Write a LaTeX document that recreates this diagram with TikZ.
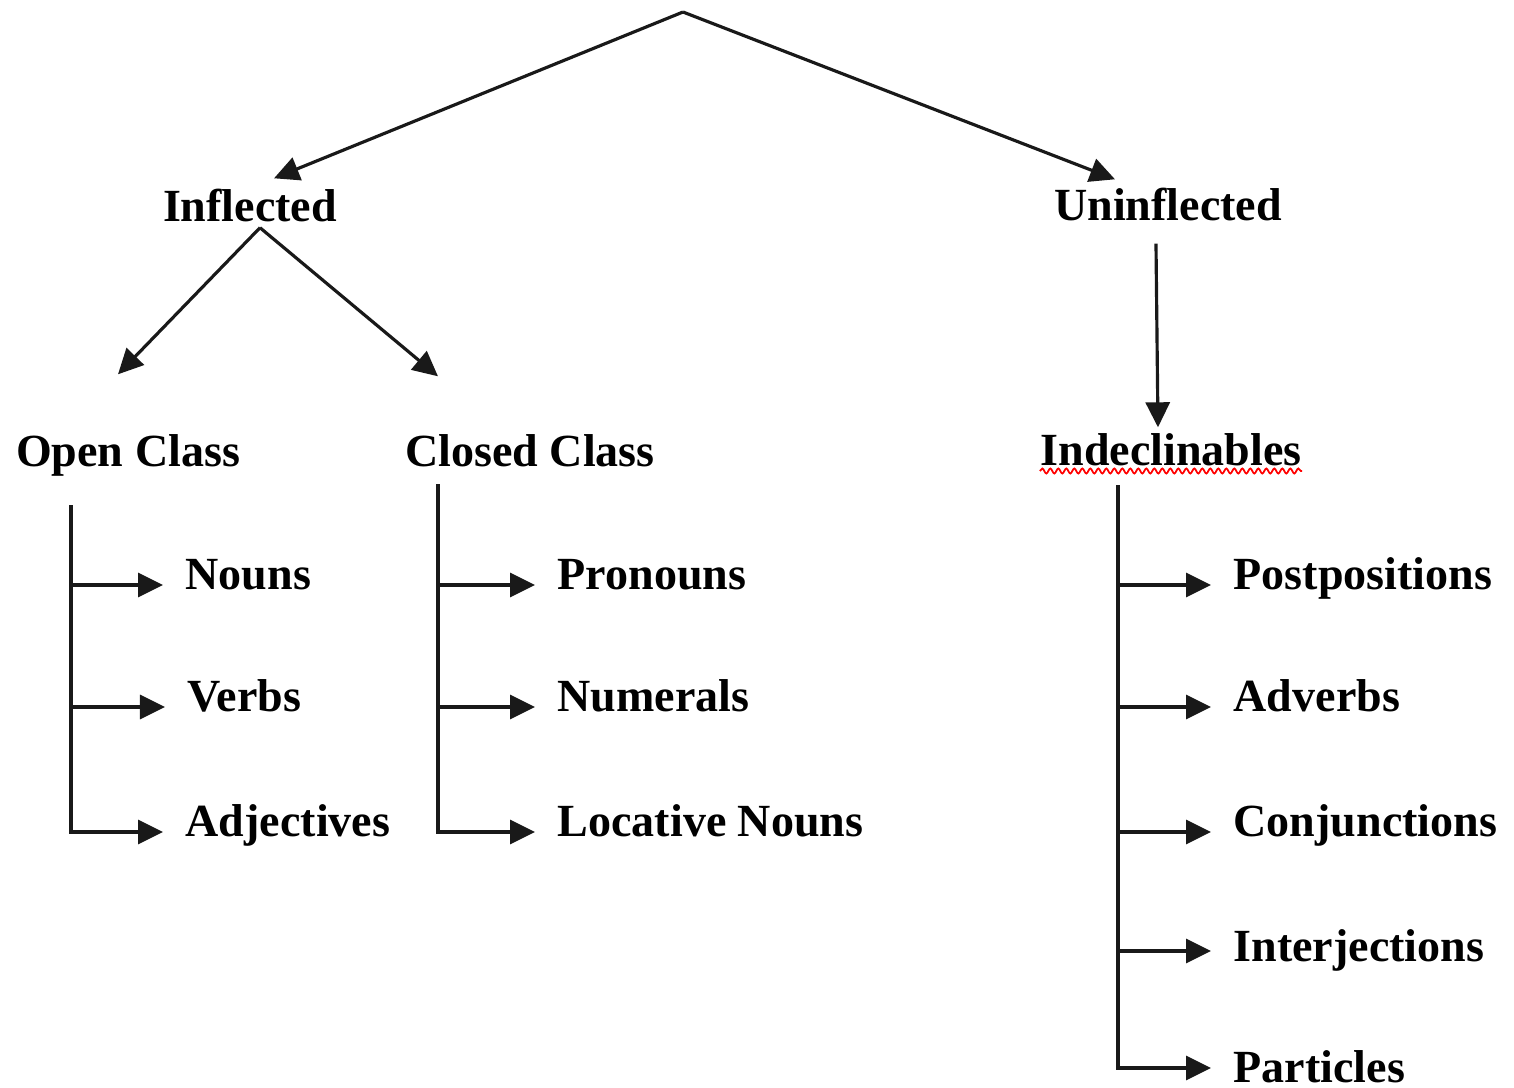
\documentclass[tikz,border=0pt]{standalone}
\usepackage{fontspec}
\setmainfont{Liberation Serif}
\usetikzlibrary{arrows.meta, positioning, decorations.pathmorphing}

\begin{document}
\begin{tikzpicture}[
  conn/.style={-{Triangle[length=0.25cm, width=0.24cm]}, line width=0.9pt, black!90},
  cat/.style={anchor=base, inner sep=0pt, text height=0.33cm, text depth=0.1cm, font=\fontsize{13.1}{15}\selectfont\bfseries},
  leaf/.style={anchor=base west, inner xsep=0.22cm, inner ysep=0pt, text height=0.33cm, text depth=0.25cm, font=\fontsize{13.1}{15}\selectfont\bfseries}
]
  \useasboundingbox (0,0) rectangle (15.14,-10.87);

  % Root point
  \coordinate (root) at (6.83,-0.12);

  % Categories
  \node[cat] (inflected) at (2.50,-2.21) {Inflected};
  \node[cat] (uninflected) at (11.68,-2.20) {Uninflected};
  \node[cat] (open) at (1.28,-4.66) {Open Class};
  \node[cat] (closed) at (5.30,-4.66) {Closed Class};
  \node[cat] (indecl) at (11.71,-4.65) {Indeclinables};
  \draw[red, line width=0.5pt, decorate, decoration={snake, amplitude=0.25mm, segment length=0.8mm}]
    ([yshift=-0.06cm]indecl.base west) -- ([yshift=-0.06cm]indecl.base east);

  % Open class
  \node[leaf] (nouns) at (1.63,-5.89) {Nouns};
  \node[leaf] (verbs) at (1.65,-7.11) {Verbs};
  \node[leaf] (adj) at (1.63,-8.36) {Adjectives};
  % Closed class
  \node[leaf] (pron) at (5.35,-5.89) {Pronouns};
  \node[leaf] (num) at (5.35,-7.11) {Numerals};
  \node[leaf] (loc) at (5.35,-8.36) {Locative Nouns};
  % Indeclinables
  \node[leaf] (post) at (12.11,-5.89) {Postpositions};
  \node[leaf] (adv) at (12.11,-7.11) {Adverbs};
  \node[leaf] (conj) at (12.11,-8.36) {Conjunctions};
  \node[leaf] (interj) at (12.11,-9.61) {Interjections};
  \node[leaf] (part) at (12.11,-10.82) {Particles};

  % Tree
  \draw[conn] (root) -- ([xshift=0.24cm, yshift=0.09cm]inflected.north);
  \draw[conn] (root) -- ([xshift=-0.53cm, yshift=0.07cm]uninflected.north);
  \draw[conn] ([xshift=0.10cm, yshift=0.04cm]inflected.south) -- ([xshift=-0.10cm, yshift=0.58cm]open.north);
  \draw[conn] ([xshift=0.10cm, yshift=0.04cm]inflected.south) -- ([xshift=-0.92cm, yshift=0.56cm]closed.north);
  \draw[conn] ([xshift=-0.12cm, yshift=-0.13cm]uninflected.south) -- ([xshift=-0.13cm, yshift=0.04cm]indecl.north);

  % Brackets
  \coordinate (ocbar) at (0.71,-5.05);
  \coordinate (ccbar) at (4.38,-4.84);
  \coordinate (inbar) at (11.18,-4.85);

  \draw[conn] (ocbar |- nouns.west) -- (nouns.west);
  \draw[conn] (ocbar |- verbs.west) -- (verbs.west);
  \draw[conn] (ocbar) |- (adj.west);

  \draw[conn] (ccbar |- pron.west) -- (pron.west);
  \draw[conn] (ccbar |- num.west) -- (num.west);
  \draw[conn] (ccbar) |- (loc.west);

  \draw[conn] (inbar |- post.west) -- (post.west);
  \draw[conn] (inbar |- adv.west) -- (adv.west);
  \draw[conn] (inbar |- conj.west) -- (conj.west);
  \draw[conn] ([yshift=0.06cm]inbar |- interj.west) -- ([yshift=0.06cm]interj.west);
  \draw[conn] (inbar) |- ([yshift=0.10cm]part.west);
\end{tikzpicture}
\end{document}
